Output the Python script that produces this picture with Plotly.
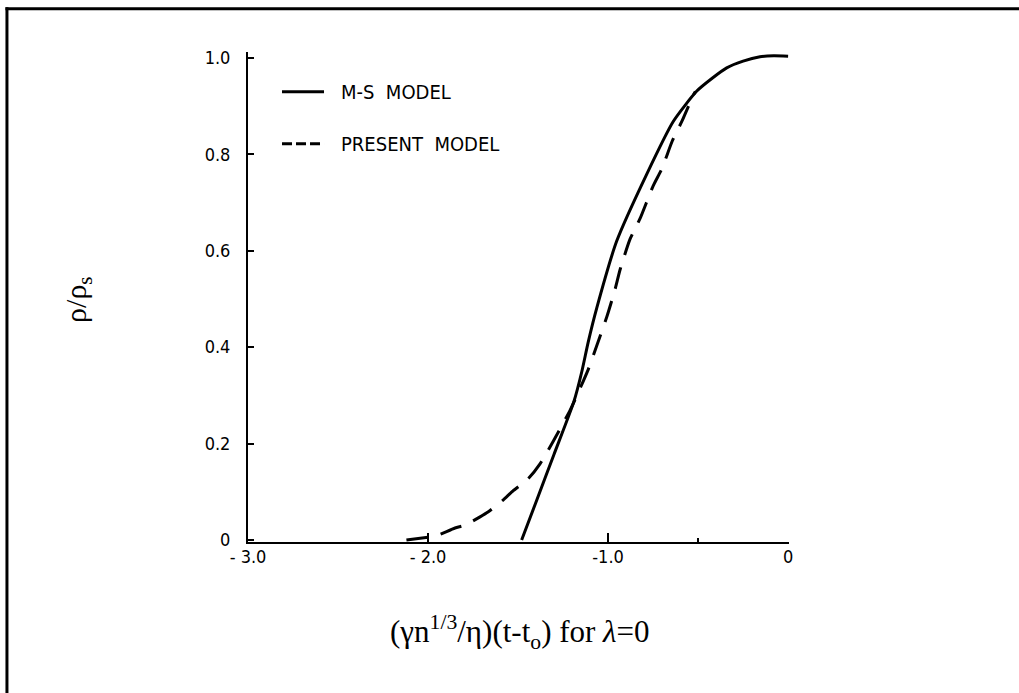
import plotly.graph_objects as go

# M-S model (solid curve)
ms_x = [-1.48, -1.40, -1.30, -1.19, -1.146, -1.11, -1.063, -0.952, -0.785, -0.638, -0.507,
        -0.42, -0.341, -0.25, -0.156, -0.08, 0.0]
ms_y = [0.0, 0.079, 0.178, 0.287, 0.349, 0.411, 0.481, 0.620, 0.759, 0.868, 0.931,
        0.958, 0.979, 0.993, 1.002, 1.004, 1.003]

# Present model (dashed curve)
pm_x = [-2.12, -2.0, -1.961, -1.85, -1.794, -1.711, -1.667, -1.583, -1.528, -1.444, -1.378,
        -1.306, -1.21, -1.111, -1.061, -1.006, -0.961, -0.933, -0.878, -0.822, -0.75, -0.70,
        -0.644, -0.589, -0.528, -0.515]
pm_y = [0.0, 0.006, 0.008, 0.025, 0.031, 0.048, 0.058, 0.083, 0.102, 0.127, 0.158,
        0.204, 0.270, 0.353, 0.405, 0.464, 0.520, 0.561, 0.624, 0.667, 0.734, 0.771,
        0.827, 0.869, 0.921, 0.930]

x_tickvals = [-3.0, -2.0, -1.0, 0.0]
x_ticktext = ["-&nbsp;3.0", "-&nbsp;2.0", "-1.0", "0"]
y_tickvals = [0.0, 0.2, 0.4, 0.6, 0.8, 1.0]
y_ticktext = ["0", "0.2", "0.4", "0.6", "0.8", "1.0"]

legend_names = ["M-S&nbsp;&nbsp;MODEL", "PRESENT&nbsp;&nbsp;MODEL"]

x_title = "(γn<sup>1/3</sup>/η)(t-t<sub>o</sub>) for <i>λ</i>=0"
y_title = "ρ/ρ<sub>s</sub>"

# canvas and plot-area geometry (pixels)
W, H = 1019, 693
X_RANGE = [-3.0, 0.005]
Y_RANGE = [-0.004, 1.012]
PX_PER_X = 180.0
PX_PER_Y = 482.0
LEFT = 248
BOTTOM_PX = 541.9
plot_w = (X_RANGE[1] - X_RANGE[0]) * PX_PER_X
plot_h = (Y_RANGE[1] - Y_RANGE[0]) * PX_PER_Y
RIGHT = W - LEFT - plot_w
BOTTOM = H - BOTTOM_PX
TOP = BOTTOM_PX - plot_h


def px_x(px):
    return (px - LEFT) / plot_w


def px_y(py):
    return (BOTTOM_PX - py) / plot_h


LETTER_FONT = "Liberation Sans Narrow, DejaVu Sans Condensed, Arial Narrow, sans-serif"
SERIF_FONT = "Liberation Serif, Times New Roman, serif"

fig = go.Figure()
fig.add_trace(go.Scatter(
    x=ms_x, y=ms_y, mode="lines", name="M-S MODEL",
    line=dict(color="black", width=3, shape="spline", smoothing=0.6),
    showlegend=False,
))
fig.add_trace(go.Scatter(
    x=pm_x, y=pm_y, mode="lines", name="PRESENT MODEL",
    line=dict(color="black", width=3, dash="22px,13px", shape="spline", smoothing=0.6),
    showlegend=False,
))

shapes = [
    # outer frame: top and left edges (the rest runs off the page)
    dict(type="line", xref="paper", yref="paper",
         x0=px_x(5.5), x1=px_x(1019), y0=px_y(9), y1=px_y(9),
         line=dict(color="black", width=3), layer="above"),
    dict(type="line", xref="paper", yref="paper",
         x0=px_x(7), x1=px_x(7), y0=px_y(7.5), y1=px_y(693),
         line=dict(color="black", width=3), layer="above"),
    # legend samples
    dict(type="line", xref="paper", yref="paper",
         x0=px_x(282), x1=px_x(324), y0=px_y(92), y1=px_y(92),
         line=dict(color="black", width=3)),
    dict(type="line", xref="paper", yref="paper",
         x0=px_x(282), x1=px_x(324), y0=px_y(144), y1=px_y(144),
         line=dict(color="black", width=3, dash="10px,4px")),
]

annotations = [
    dict(text=legend_names[0], xref="paper", yref="paper", x=px_x(339), y=px_y(92),
         xanchor="left", yanchor="middle", showarrow=False,
         font=dict(family=LETTER_FONT, size=20, color="black")),
    dict(text=legend_names[1], xref="paper", yref="paper", x=px_x(339), y=px_y(144),
         xanchor="left", yanchor="middle", showarrow=False,
         font=dict(family=LETTER_FONT, size=20, color="black")),
    dict(text=x_title, xref="paper", yref="paper", x=px_x(520), y=px_y(632),
         xanchor="center", yanchor="middle", showarrow=False,
         font=dict(family=SERIF_FONT, size=31, color="black")),
    dict(text=y_title, xref="paper", yref="paper", x=px_x(78), y=px_y(300),
         xanchor="center", yanchor="middle", showarrow=False, textangle=-90,
         font=dict(family=SERIF_FONT, size=30, color="black")),
]

fig.update_layout(
    width=W, height=H,
    margin=dict(l=LEFT, r=RIGHT, t=TOP, b=BOTTOM, pad=0),
    paper_bgcolor="white", plot_bgcolor="white",
    shapes=shapes, annotations=annotations,
    showlegend=False,
)
fig.update_xaxes(
    range=X_RANGE, showgrid=False, zeroline=False,
    showline=True, linecolor="black", linewidth=2,
    ticks="inside", ticklen=9, tickwidth=1.5, tickcolor="black",
    tickmode="array", tickvals=x_tickvals, ticktext=x_ticktext,
    ticklabelstandoff=-3,
    tickfont=dict(family=LETTER_FONT, size=18, color="black"),
    minor=dict(tickmode="array", tickvals=[-0.5], ticks="inside", ticklen=4,
               tickwidth=1.5, tickcolor="black", showgrid=False),
)
fig.update_yaxes(
    range=Y_RANGE, showgrid=False, zeroline=False,
    showline=True, linecolor="black", linewidth=2,
    ticks="inside", ticklen=6, tickwidth=1.5, tickcolor="black",
    tickmode="array", tickvals=y_tickvals, ticktext=y_ticktext,
    ticklabelstandoff=12,
    tickfont=dict(family=LETTER_FONT, size=18, color="black"),
)

fig.write_html(
    "out.html",
    post_script="document.documentElement.style.overflow='hidden';"
                "document.body.style.overflow='hidden';document.body.style.margin='0';",
)
